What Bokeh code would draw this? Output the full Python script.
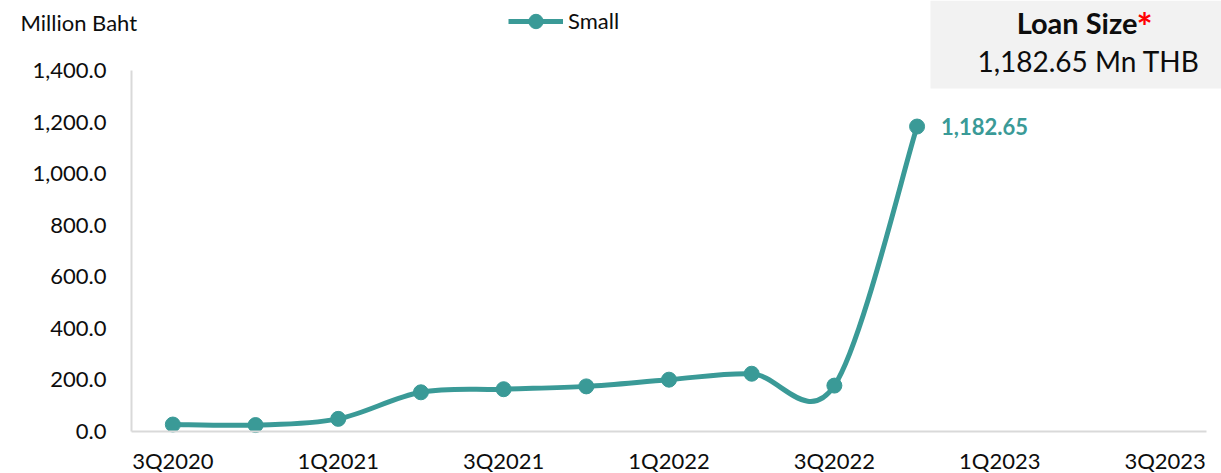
from bokeh.plotting import figure
from bokeh.models import (Label, BoxAnnotation, Legend, LegendItem, FixedTicker,
                          NumeralTickFormatter, Range1d)
from bokeh.embed import file_html
from bokeh.resources import INLINE

# ---------------- data ----------------
quarters = ["3Q2020", "4Q2020", "1Q2021", "2Q2021", "3Q2021", "4Q2021", "1Q2022",
            "2Q2022", "3Q2022", "4Q2022", "1Q2023", "2Q2023", "3Q2023"]
small = [27, 25, 49, 152, 164, 175, 201, 224, 178, 1182.65]
y_ticks = [0, 200, 400, 600, 800, 1000, 1200, 1400]
x_tick_idx = [0, 2, 4, 6, 8, 10, 12]
series_name = "Small"
unit_label = "Million Baht"
box_title = "Loan Size"
box_value = "1,182.65 Mn THB"

# ---------------- layout (pixels) ----------------
W, H = 1221, 473
PL, PR, PT, PB = 131, 1206, 70, 431      # plot area edges in the picture
Y_MAX = 1400
TEAL = "#3a9a97"
FONT = "Lato"
TXT = "#0d0d0d"

ncat = len(quarters)
ux = (PR - PL) / ncat                     # pixels per category
uy = (PB - PT) / Y_MAX                    # pixels per unit
x_range = Range1d(-0.5 - PL / ux, -0.5 + (W - PL) / ux)
y_range = Range1d(-(H - PB) / uy, Y_MAX + PT / uy)


def sy(canvas_y):
    return H - canvas_y


xs = list(range(len(small)))

p = figure(width=W, height=H, output_backend="svg", toolbar_location=None,
           x_range=x_range, y_range=y_range,
           min_border_left=0, min_border_right=0, min_border_top=0, min_border_bottom=0)
p.outline_line_color = None
p.grid.visible = False
p.background_fill_color = "white"
p.border_fill_color = "white"

xa, ya = p.xaxis[0], p.yaxis[0]
for ax in (xa, ya):
    ax.axis_line_color = "#d9d9d9"
    ax.axis_line_width = 2
    ax.major_tick_line_color = None
    ax.minor_tick_line_color = None
    ax.major_tick_out = 0
    ax.major_tick_in = 0
    ax.minor_tick_out = 0
    ax.major_label_text_font = FONT
    ax.major_label_text_font_size = "22px"
    ax.major_label_text_color = TXT

xa.fixed_location = 0
xa.bounds = (-0.5, ncat - 0.5)
xa.ticker = FixedTicker(ticks=x_tick_idx)
xa.major_label_overrides = {i: quarters[i] for i in x_tick_idx}
xa.major_label_standoff = 15

ya.fixed_location = -0.5
ya.bounds = (0, Y_MAX)
ya.ticker = FixedTicker(ticks=y_ticks)
ya.formatter = NumeralTickFormatter(format="0,0.0")
ya.major_label_standoff = 25

# loan size box (drawn first, under everything)
p.add_layout(BoxAnnotation(left=930, right=W, top=sy(0), bottom=sy(88),
                           left_units="screen", right_units="screen",
                           top_units="screen", bottom_units="screen",
                           fill_color="#f2f2f2", fill_alpha=1, line_alpha=0,
                           level="underlay"))

# smoothed line (Excel-style bezier through the points)
n = len(small)
x0s, y0s, x1s, y1s, cx0s, cy0s, cx1s, cy1s = ([] for _ in range(8))
for i in range(n - 1):
    xm1, ym1 = (xs[i - 1], small[i - 1]) if i > 0 else (xs[i], small[i])
    xp2, yp2 = (xs[i + 2], small[i + 2]) if i + 2 < n else (xs[i + 1], small[i + 1])
    x0s.append(xs[i]); y0s.append(small[i])
    x1s.append(xs[i + 1]); y1s.append(small[i + 1])
    cx0s.append(xs[i] + (xs[i + 1] - xm1) / 6); cy0s.append(small[i] + (small[i + 1] - ym1) / 6)
    cx1s.append(xs[i + 1] - (xp2 - xs[i]) / 6); cy1s.append(small[i + 1] - (yp2 - small[i]) / 6)

p.bezier(x0=x0s, y0=y0s, x1=x1s, y1=y1s, cx0=cx0s, cy0=cy0s, cx1=cx1s, cy1=cy1s,
         line_color=TEAL, line_width=5, line_cap="round")
pts = p.scatter(xs, small, size=15, color=TEAL)
legend_line = p.line([float("nan")], [float("nan")], line_color=TEAL, line_width=5)

legend = Legend(items=[LegendItem(label=series_name, renderers=[legend_line, pts], index=0)],
                location=(508, sy(38.5)), orientation="horizontal",
                glyph_width=55, glyph_height=36, label_standoff=5, padding=0, margin=0,
                spacing=0, border_line_alpha=0, background_fill_alpha=0,
                label_text_font=FONT, label_text_font_size="22px", label_text_color=TXT)
p.add_layout(legend, "center")

# data label
p.add_layout(Label(x=xs[-1], y=small[-1], x_offset=24, text=f"{small[-1]:,.2f}",
                   text_font=FONT, text_font_style="bold", text_font_size="22px",
                   text_color=TEAL, text_align="left", text_baseline="middle"))

# unit label
p.add_layout(Label(x=20, y=sy(22), x_units="screen", y_units="screen", text=unit_label,
                   text_font=FONT, text_font_size="22px", text_color=TXT,
                   text_align="left", text_baseline="middle"))

# loan size box texts
p.add_layout(Label(x=1137, y=sy(22), x_units="screen", y_units="screen", text=box_title,
                   text_font=FONT, text_font_style="bold", text_font_size="29px",
                   text_color=TXT, text_align="right", text_baseline="middle"))
p.add_layout(Label(x=1136, y=sy(25), x_units="screen", y_units="screen", text="*",
                   text_font=FONT, text_font_style="bold", text_font_size="38px",
                   text_color="#ff0000", text_align="left", text_baseline="middle"))
p.add_layout(Label(x=1088, y=sy(60), x_units="screen", y_units="screen", text=box_value,
                   text_font=FONT, text_font_size="28px", text_color=TXT,
                   text_align="center", text_baseline="middle"))

open("out.html", "w").write(file_html(p, INLINE))
